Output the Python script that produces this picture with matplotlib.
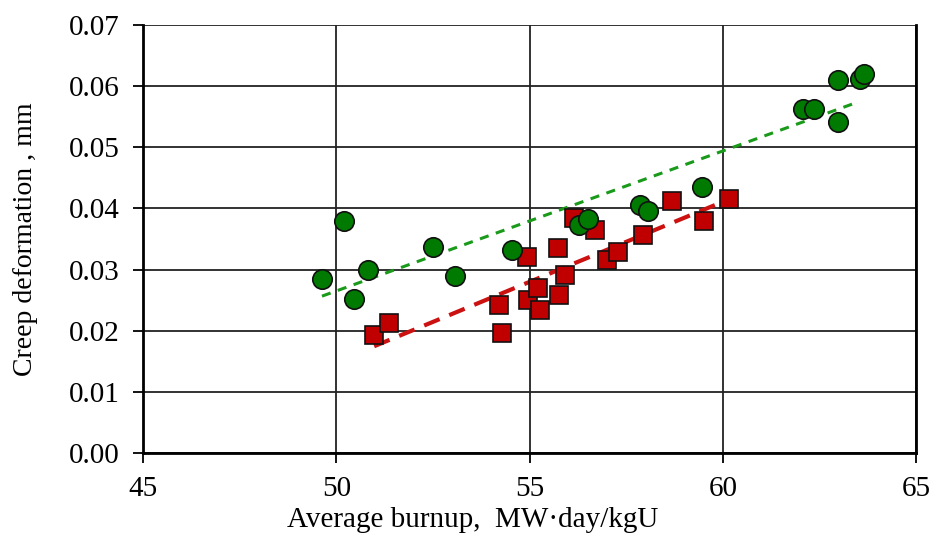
import numpy as np
import matplotlib.pyplot as plt

plt.rcParams['font.family'] = ['Liberation Serif', 'DejaVu Serif']

# burnup (MW*day/kgU) vs creep deformation (mm)
green_x = [49.63, 50.20, 50.46, 50.82, 52.50, 53.07, 54.55, 56.28, 56.51,
           57.86, 58.07, 59.46, 62.08, 62.36, 62.98, 62.98, 63.55, 63.65]
green_y = [0.0285, 0.0380, 0.0252, 0.0300, 0.0337, 0.0290, 0.0332, 0.0372, 0.0383,
           0.0406, 0.0396, 0.0435, 0.0563, 0.0563, 0.0610, 0.0542, 0.0612, 0.0619]

red_x = [50.98, 51.37, 54.21, 54.29, 54.93, 54.96, 55.22, 55.27, 55.74, 55.77,
         55.92, 56.15, 56.69, 57.00, 57.29, 57.94, 58.69, 59.52, 60.16]
red_y = [0.0193, 0.0213, 0.0242, 0.0196, 0.0321, 0.0250, 0.0270, 0.0234, 0.0335, 0.0259,
         0.0291, 0.0385, 0.0365, 0.0316, 0.0329, 0.0357, 0.0412, 0.0380, 0.0416]

x_ticks = [45, 50, 55, 60, 65]
y_ticks = [0.00, 0.01, 0.02, 0.03, 0.04, 0.05, 0.06, 0.07]

fig = plt.figure(figsize=(9.31, 5.36), dpi=100)
ax = fig.add_axes([0.1536, 0.155, 0.8304, 0.7984])

ax.set_xlim(45, 65)
ax.set_ylim(0, 0.07)
ax.set_xticks(x_ticks)
ax.set_yticks(y_ticks)
ax.set_yticklabels(['%.2f' % v for v in y_ticks])
ax.grid(True, color='#222222', linewidth=1.3)
ax.set_axisbelow(True)

# linear trends
gx = np.array(green_x)
gk = np.polyfit(gx, green_y, 1)
gxx = np.array([gx.min(), gx.max() - 0.2])
ax.plot(gxx, np.polyval(gk, gxx), color='#1a9a1a', linewidth=2.2,
        dashes=(3, 2.5), zorder=2)

rx = np.array(red_x)
rk = np.polyfit(rx, red_y, 1)
rxx = np.array([rx.min(), rx.max() - 0.35])
ax.plot(rxx, np.polyval(rk, rxx), color='#cc1111', linewidth=3,
        dashes=(4, 2.5), zorder=2)

ax.plot(red_x, red_y, 's', color='#c00000', markeredgecolor='#111111',
        markersize=13, markeredgewidth=1.2, zorder=3)
ax.plot(green_x, green_y, 'o', color='#007a00', markeredgecolor='#111111',
        markersize=14, markeredgewidth=1.2, zorder=4)

for side in ['left', 'bottom', 'right']:
    ax.spines[side].set_linewidth(2)
    ax.spines[side].set_color('black')
ax.spines['top'].set_visible(False)

ax.tick_params(direction='out', length=7.5, width=1.3, labelsize=21, colors='black')
ax.tick_params(axis='y', pad=9)
ax.tick_params(axis='x', pad=9)

ax.set_xlabel('Average burnup,  MW\u00b7day/kgU', fontsize=21)
ax.xaxis.set_label_coords(0.426, -0.126)
ax.set_ylabel('Creep deformation , mm', fontsize=20)
ax.yaxis.set_label_coords(-0.136, 0.5)

fig.savefig('out.png', dpi=100)
